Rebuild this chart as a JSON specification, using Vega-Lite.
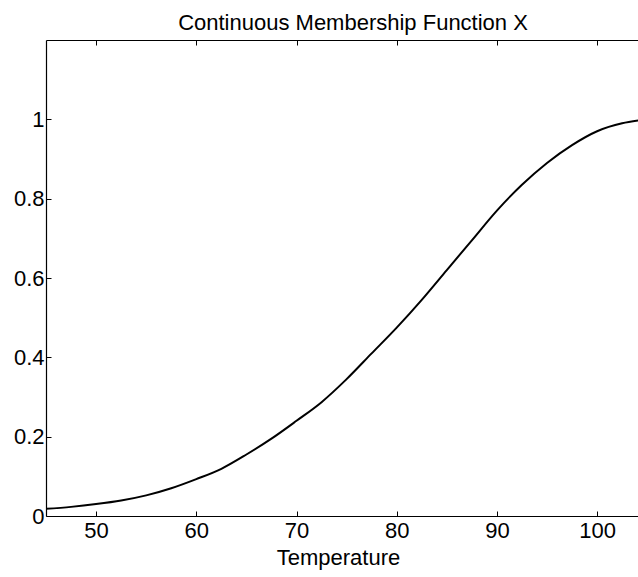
{
  "$schema": "https://vega.github.io/schema/vega-lite/v6.json",
  "width": 592,
  "height": 476,
  "autosize": "none",
  "padding": {"left": 46, "top": 40, "right": 0, "bottom": 61},
  "background": "white",
  "title": {
    "text": "Continuous Membership Function X",
    "font": "Liberation Sans",
    "fontSize": 22,
    "fontWeight": "normal",
    "color": "black",
    "dx": 11,
    "offset": -12,
    "baseline": "alphabetic"
  },
  "config": {
    "view": {"stroke": null},
    "axis": {
      "labelFont": "Liberation Sans",
      "labelFontSize": 22,
      "labelColor": "black",
      "titleFont": "Liberation Sans",
      "titleFontSize": 22,
      "titleFontWeight": "normal",
      "titleColor": "black",
      "domainColor": "black",
      "domainWidth": 1.2,
      "tickColor": "black",
      "tickWidth": 1,
      "grid": false
    }
  },
  "data": {
    "values": [
      {"t": 45.0, "m": 0.018},
      {"t": 47.5, "m": 0.023},
      {"t": 50.0, "m": 0.030},
      {"t": 52.5, "m": 0.039},
      {"t": 55.0, "m": 0.052},
      {"t": 57.5, "m": 0.070},
      {"t": 60.0, "m": 0.093},
      {"t": 62.5, "m": 0.119},
      {"t": 65.0, "m": 0.155},
      {"t": 67.5, "m": 0.195},
      {"t": 70.0, "m": 0.240},
      {"t": 72.5, "m": 0.287},
      {"t": 75.0, "m": 0.345},
      {"t": 77.5, "m": 0.410},
      {"t": 80.0, "m": 0.475},
      {"t": 82.5, "m": 0.545},
      {"t": 85.0, "m": 0.620},
      {"t": 87.5, "m": 0.695},
      {"t": 90.0, "m": 0.770},
      {"t": 92.5, "m": 0.835},
      {"t": 95.0, "m": 0.890},
      {"t": 97.5, "m": 0.935},
      {"t": 100.0, "m": 0.970},
      {"t": 102.5, "m": 0.990},
      {"t": 104.1, "m": 0.997}
    ]
  },
  "layer": [
    {
      "mark": {"type": "line", "color": "black", "strokeWidth": 2, "clip": true, "interpolate": "monotone"},
      "encoding": {
        "x": {
          "field": "t",
          "type": "quantitative",
          "scale": {"domain": [45, 104.08], "nice": false, "zero": false},
          "axis": {
            "orient": "bottom",
            "title": "Temperature",
            "values": [50, 60, 70, 80, 90, 100],
            "tickSize": -5,
            "labelPadding": 9,
            "titleX": 292,
            "titlePadding": 6
          }
        },
        "y": {
          "field": "m",
          "type": "quantitative",
          "scale": {"domain": [0, 1.2], "nice": false},
          "axis": {
            "title": null,
            "values": [0, 0.2, 0.4, 0.6, 0.8, 1],
            "format": "~g",
            "tickSize": -5,
            "labelPadding": 7
          }
        }
      }
    },
    {
      "mark": {"type": "line", "opacity": 0},
      "encoding": {
        "x": {
          "field": "t",
          "type": "quantitative",
          "axis": {
            "orient": "top",
            "title": null,
            "labels": false,
            "values": [50, 60, 70, 80, 90, 100],
            "tickSize": -5
          }
        }
      }
    }
  ],
  "resolve": {"axis": {"x": "independent"}}
}
